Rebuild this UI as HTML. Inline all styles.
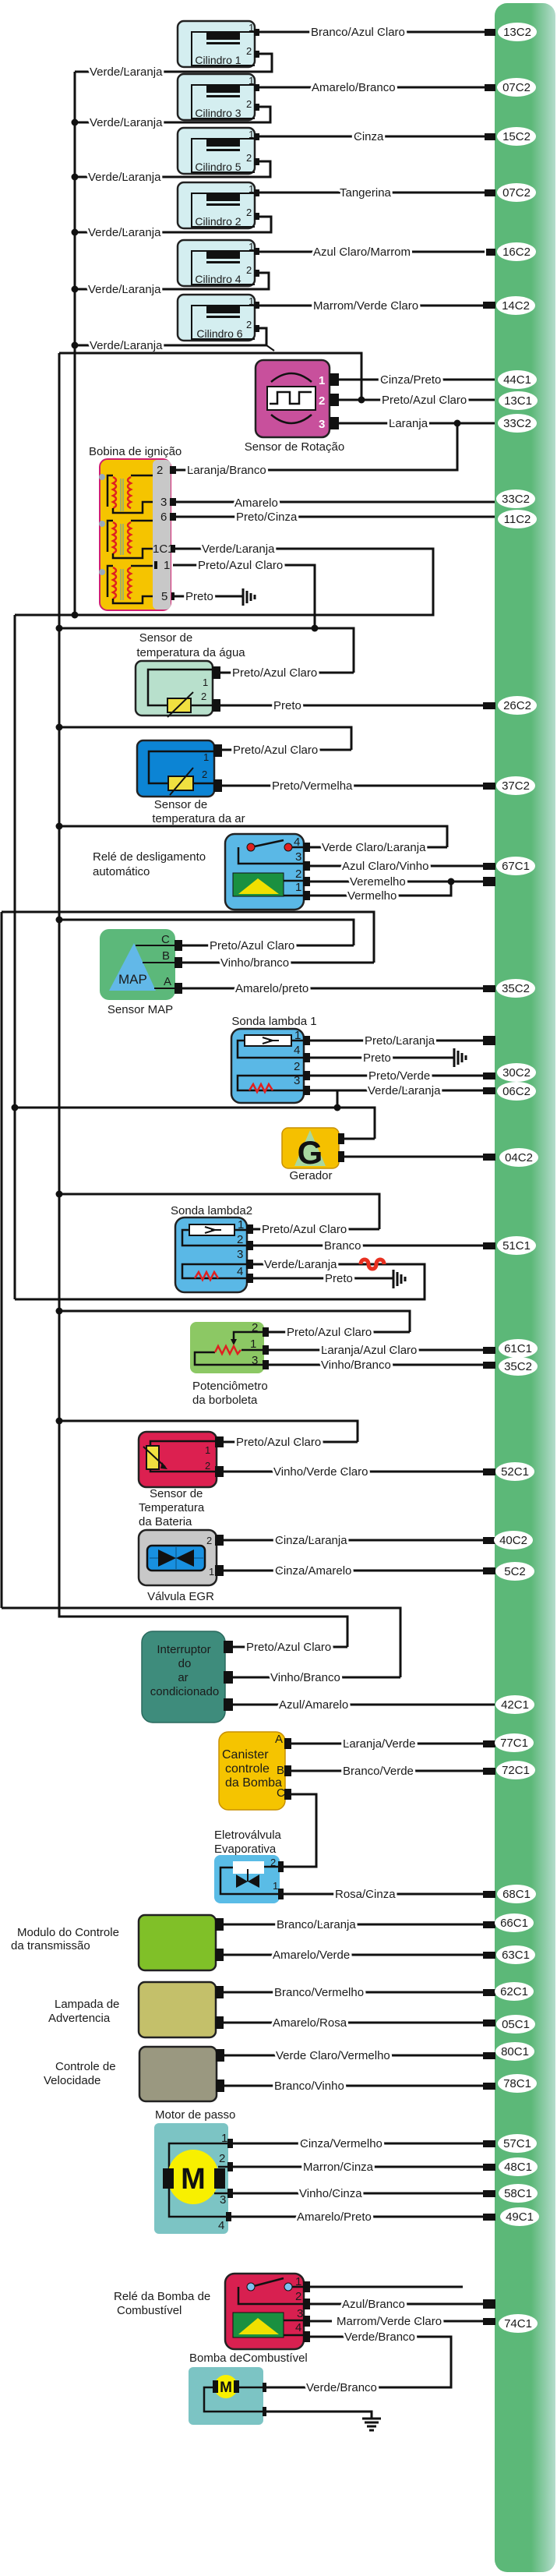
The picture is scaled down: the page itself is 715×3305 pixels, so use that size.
<!DOCTYPE html>
<html><head><meta charset="utf-8"><style>
html,body{margin:0;padding:0;background:#fff}
svg{display:block}
text{font-family:"Liberation Sans",sans-serif;font-size:15px;fill:#1a1a1a}
.w{paint-order:stroke;stroke:#fff;stroke-width:6px;stroke-linejoin:round}
.c{font-size:14px;text-anchor:middle}
.n{font-size:13px}
.l{fill:none;stroke:#111;stroke-width:3}
.b{stroke:#222;stroke-width:2.5}
</style></head><body>
<svg width="715" height="3305" viewBox="0 0 715 3305" xmlns="http://www.w3.org/2000/svg">
<defs>
<linearGradient id="gb" x1="0" x2="1" y1="0" y2="0">
<stop offset="0" stop-color="#5cb878"/><stop offset="0.6" stop-color="#5cb878"/><stop offset="1" stop-color="#b4dccc"/>
</linearGradient>
</defs>
<rect x="635" y="4" width="78" height="3296" rx="16" fill="url(#gb)"/>

<!-- ===== Cylinders ===== -->
<g id="cyls">
<path class="l" d="M96 92 V789"/>
<!-- cyl template rows -->
<g>
<rect x="228" y="27" width="99" height="59" rx="8" fill="#d4eef0" class="b"/>
<path d="M327 41 H246 V84 H327" fill="none" stroke="#111" stroke-width="2"/><rect x="265" y="41" width="43" height="10" fill="#111"/><rect x="265" y="54" width="43" height="3" fill="#111"/>
<text x="319" y="40" class="n">1</text><text x="316" y="70" class="n">2</text><text x="280" y="82" class="c">Cilindro 1</text>
<rect x="326" y="37" width="7" height="9" fill="#111"/><rect x="326" y="65" width="7" height="9" fill="#111"/>
<path class="l" d="M333 41 H622"/><path class="l" d="M333 69 H349 V92 H96"/>
</g>
<g>
<rect x="228" y="95" width="99" height="59" rx="8" fill="#d4eef0" class="b"/>
<path d="M327 109 H246 V152 H327" fill="none" stroke="#111" stroke-width="2"/><rect x="265" y="109" width="43" height="10" fill="#111"/><rect x="265" y="122" width="43" height="3" fill="#111"/>
<text x="319" y="108" class="n">1</text><text x="316" y="138" class="n">2</text><text x="280" y="150" class="c">Cilindro 3</text>
<rect x="326" y="108" width="7" height="9" fill="#111"/><rect x="326" y="133" width="7" height="9" fill="#111"/>
<path class="l" d="M333 112 H622"/><path class="l" d="M333 137 H347 V157 H96"/>
</g>
<g>
<rect x="228" y="164" width="99" height="59" rx="8" fill="#d4eef0" class="b"/>
<path d="M327 178 H246 V221 H327" fill="none" stroke="#111" stroke-width="2"/><rect x="265" y="178" width="43" height="10" fill="#111"/><rect x="265" y="191" width="43" height="3" fill="#111"/>
<text x="319" y="177" class="n">1</text><text x="316" y="207" class="n">2</text><text x="280" y="219" class="c">Cilindro 5</text>
<rect x="326" y="171" width="7" height="9" fill="#111"/><rect x="326" y="203" width="7" height="9" fill="#111"/>
<path class="l" d="M333 175 H622"/><path class="l" d="M333 207 H347 V227 H96"/>
</g>
<g>
<rect x="228" y="234" width="99" height="59" rx="8" fill="#d4eef0" class="b"/>
<path d="M327 248 H246 V291 H327" fill="none" stroke="#111" stroke-width="2"/><rect x="265" y="248" width="43" height="10" fill="#111"/><rect x="265" y="261" width="43" height="3" fill="#111"/>
<text x="319" y="247" class="n">1</text><text x="316" y="277" class="n">2</text><text x="280" y="289" class="c">Cilindro 2</text>
<rect x="326" y="243" width="7" height="9" fill="#111"/><rect x="326" y="273" width="7" height="9" fill="#111"/>
<path class="l" d="M333 247 H622"/><path class="l" d="M333 278 H348 V298 H96"/>
</g>
<g>
<rect x="228" y="308" width="99" height="59" rx="8" fill="#d4eef0" class="b"/>
<path d="M327 322 H246 V365 H327" fill="none" stroke="#111" stroke-width="2"/><rect x="265" y="322" width="43" height="10" fill="#111"/><rect x="265" y="335" width="43" height="3" fill="#111"/>
<text x="319" y="321" class="n">1</text><text x="316" y="351" class="n">2</text><text x="280" y="363" class="c">Cilindro 4</text>
<rect x="326" y="318" width="7" height="9" fill="#111"/><rect x="326" y="346" width="7" height="9" fill="#111"/>
<path class="l" d="M333 323 H622"/><path class="l" d="M333 350 H345 V371 H96"/>
</g>
<g>
<rect x="228" y="378" width="99" height="59" rx="8" fill="#d4eef0" class="b"/>
<path d="M327 392 H246 V435 H327" fill="none" stroke="#111" stroke-width="2"/><rect x="265" y="392" width="43" height="10" fill="#111"/><rect x="265" y="405" width="43" height="3" fill="#111"/>
<text x="319" y="391" class="n">1</text><text x="316" y="421" class="n">2</text><text x="282" y="433" class="c">Cilindro 6</text>
<rect x="326" y="387" width="7" height="9" fill="#111"/><rect x="326" y="417" width="7" height="9" fill="#111"/>
<path class="l" d="M333 392 H622"/><path class="l" d="M333 421 H342 V443 H96"/><path d="M342 443 L352 450" stroke="#111" stroke-width="2"/>
</g>
<g fill="#111"><circle cx="96" cy="157" r="4.5"/><circle cx="96" cy="227" r="4.5"/><circle cx="96" cy="298" r="4.5"/><circle cx="96" cy="371" r="4.5"/><circle cx="96" cy="443" r="4.5"/><circle cx="96" cy="789" r="4.5"/></g>
<g class="w">
<text x="115" y="97">Verde/Laranja</text><text x="115" y="162">Verde/Laranja</text><text x="113" y="232">Verde/Laranja</text><text x="113" y="303">Verde/Laranja</text><text x="113" y="376">Verde/Laranja</text><text x="115" y="448">Verde/Laranja</text>
<text x="399" y="46">Branco/Azul Claro</text><text x="400" y="117">Amarelo/Branco</text><text x="454" y="180">Cinza</text><text x="436" y="252">Tangerina</text><text x="402" y="328">Azul Claro/Marrom</text><text x="402" y="397">Marrom/Verde Claro</text>
</g>
</g>

<!-- ===== Left buses ===== -->
<path class="l" d="M76 453 V2074 H446 V2113"/>
<path class="l" d="M76 453 H464 V513"/>
<path class="l" d="M19 789 V1667"/>
<path class="l" d="M2 1170 V2063"/>

<!-- ===== Sensor de Rotação ===== -->
<rect x="328" y="462" width="95" height="99" rx="10" fill="#c8509c" class="b"/>
<rect x="343" y="496" width="62" height="30" fill="#fff" stroke="#111" stroke-width="2"/>
<path d="M346 518 H356 V503 H372 V518 H384 V503 H400" fill="none" stroke="#111" stroke-width="2.5"/>
<path d="M348 490 Q374 468 400 490" fill="none" stroke="#111" stroke-width="2.5"/>
<path d="M348 532 Q374 554 400 532" fill="none" stroke="#111" stroke-width="2.5"/>
<g fill="#fff" font-weight="bold"><text x="409" y="493" style="fill:#fff">1</text><text x="409" y="519" style="fill:#fff">2</text><text x="409" y="549" style="fill:#fff">3</text></g>
<g fill="#111"><rect x="423" y="479" width="12" height="16"/><rect x="423" y="505" width="12" height="16"/><rect x="423" y="535" width="12" height="16"/></g>
<path class="l" d="M435 487 H635 M435 513 H635 M435 543 H635"/>
<path class="l" d="M587 543 V603 H226"/>
<circle cx="464" cy="513" r="4.5" fill="#111"/><circle cx="587" cy="543" r="4.5" fill="#111"/>
<text x="378" y="578" class="c" style="font-size:15px">Sensor de Rotação</text>
<g class="w"><text x="488" y="492">Cinza/Preto</text><text x="490" y="518">Preto/Azul Claro</text><text x="499" y="548">Laranja</text></g>

<!-- ===== Bobina ===== -->
<text x="114" y="584">Bobina de ignição</text>
<rect x="128" y="589" width="91" height="194" rx="10" fill="#f5c400" stroke="#d02070" stroke-width="2"/>
<rect x="196" y="590" width="23" height="192" rx="6" fill="#c8c8c8"/>
<g fill="none" stroke="#e02020" stroke-width="2.5">
<path d="M145 612 q8 4 0 8 q8 4 0 8 q8 4 0 8 q8 4 0 8 q8 4 0 8 M168 612 q-8 4 0 8 q-8 4 0 8 q-8 4 0 8 q-8 4 0 8 q-8 4 0 8"/>
<path d="M145 670 q8 4 0 8 q8 4 0 8 q8 4 0 8 q8 4 0 8 q8 4 0 8 M168 670 q-8 4 0 8 q-8 4 0 8 q-8 4 0 8 q-8 4 0 8 q-8 4 0 8"/>
<path d="M145 728 q8 4 0 8 q8 4 0 8 q8 4 0 8 q8 4 0 8 q8 4 0 8 M168 728 q-8 4 0 8 q-8 4 0 8 q-8 4 0 8 q-8 4 0 8 q-8 4 0 8"/>
</g>
<g fill="none" stroke="#111" stroke-width="2.5">
<path d="M168 610 H196 M145 652 V658 H183 V644 H196 M145 610 H138 V650"/>
<path d="M168 668 H196 M145 710 V716 H183 V704 H196 M145 668 H138 V708"/>
<path d="M168 726 H196 M145 768 V774 H183 V765 H196 M145 726 H138 V766"/>
</g>
<g stroke="#8a8" stroke-width="1.5"><path d="M155 614 V656 M158 614 V656 M155 672 V712 M158 672 V712 M155 730 V770 M158 730 V770"/></g>
<g fill="#9ab"><circle cx="131" cy="612" r="4"/><circle cx="131" cy="672" r="4"/><circle cx="131" cy="734" r="4"/></g>
<g class="n"><text x="201" y="608">2</text><text x="206" y="649">3</text><text x="206" y="668">6</text><text x="196" y="709">1C1</text><text x="210" y="730">1</text><text x="207" y="770">5</text></g>
<g fill="#111"><rect x="218" y="598" width="8" height="10"/><rect x="218" y="639" width="8" height="10"/><rect x="218" y="658" width="8" height="10"/><rect x="219" y="699" width="6" height="10"/><rect x="198" y="720" width="4" height="10"/><rect x="220" y="760" width="4" height="10"/></g>
<path class="l" d="M226 644 H635 M226 663 H635"/>
<path class="l" d="M222 704 H556 V789 H19"/>
<path class="l" d="M222 725 H404 V806"/>
<path class="l" d="M224 765 H312"/>
<path d="M312 755 V777 M317 758 V774 M322 761 V771 M327 763 V769" stroke="#111" stroke-width="3"/>
<path class="l" d="M76 806 H454 V863"/>
<g fill="#111"><circle cx="76" cy="806" r="4.5"/><circle cx="404" cy="806" r="4.5"/></g>
<g class="w"><text x="240" y="608">Laranja/Branco</text><text x="301" y="650">Amarelo</text><text x="303" y="668">Preto/Cinza</text><text x="259" y="709">Verde/Laranja</text><text x="254" y="730">Preto/Azul Claro</text><text x="238" y="770">Preto</text></g>

<!-- ===== Sensor temperatura água ===== -->
<text x="213" y="823" class="c" style="font-size:15px">Sensor de</text>
<text x="245" y="842" class="c" style="font-size:15px">temperatura  da água</text>
<rect x="174" y="848" width="99" height="70" rx="8" fill="#b8e0cc" class="b"/>
<path d="M273 859 H190 V905 H273" fill="none" stroke="#111" stroke-width="2.5"/>
<rect x="215" y="896" width="30" height="18" fill="#f0e040" stroke="#111" stroke-width="2"/><path d="M215 920 L248 888" stroke="#111" stroke-width="2"/>
<text x="260" y="880" class="n">1</text><text x="258" y="898" class="n">2</text>
<g fill="#111"><rect x="272" y="855" width="11" height="16"/><rect x="272" y="897" width="11" height="16"/></g>
<path class="l" d="M283 863 H454 M283 905 H635"/>
<g class="w"><text x="298" y="868">Preto/Azul Claro</text><text x="351" y="910">Preto</text></g>

<!-- ===== Sensor temperatura ar ===== -->
<path class="l" d="M76 933 H451 V962"/><circle cx="76" cy="933" r="4.5" fill="#111"/>
<rect x="176" y="950" width="99" height="72" rx="8" fill="#0c84d4" class="b"/>
<path d="M275 964 H191 V1005 H275" fill="none" stroke="#111" stroke-width="2.5"/>
<rect x="216" y="996" width="32" height="18" fill="#f0e040" stroke="#111" stroke-width="2"/><path d="M218 1020 L248 985" stroke="#111" stroke-width="2"/>
<text x="261" y="976" class="n">1</text><text x="259" y="998" class="n">2</text>
<g fill="#111"><rect x="274" y="955" width="11" height="16"/><rect x="274" y="1000" width="11" height="16"/></g>
<path class="l" d="M285 962 H451 M285 1008 H635"/>
<text x="232" y="1037" class="c" style="font-size:15px">Sensor de</text>
<text x="255" y="1055" class="c" style="font-size:15px">temperatura  da ar</text>
<g class="w"><text x="299" y="967">Preto/Azul Claro</text><text x="349" y="1013">Preto/Vermelha</text></g>

<!-- ===== Relé desligamento ===== -->
<path class="l" d="M76 1060 H574 V1087"/><circle cx="76" cy="1060" r="4.5" fill="#111"/>
<rect x="289" y="1070" width="101" height="97" rx="12" fill="#5ab8e6" class="b"/>
<path d="M322 1087 L364 1078 M306 1087 V1108 H390 M370 1087 H390" fill="none" stroke="#111" stroke-width="2.5"/>
<circle cx="322" cy="1087" r="5" fill="#e02020" stroke="#111"/><circle cx="370" cy="1087" r="5" fill="#e02020" stroke="#111"/>
<rect x="299" y="1120" width="65" height="30" fill="#1a9040" stroke="#111"/>
<polygon points="306,1147 331,1127 358,1147" fill="#f0e000"/>
<path d="M364 1130 H390 M364 1149 H390" stroke="#111" stroke-width="2.5"/>
<g class="n"><text x="377" y="1085">4</text><text x="379" y="1104">3</text><text x="379" y="1126">2</text><text x="379" y="1143">1</text></g>
<g fill="#111"><rect x="389" y="1081" width="9" height="12"/><rect x="389" y="1105" width="9" height="12"/><rect x="389" y="1125" width="9" height="12"/><rect x="389" y="1143" width="9" height="12"/></g>
<path class="l" d="M398 1087 H574 M398 1111 H635 M398 1131 H635 M398 1149 H579 V1131"/>
<rect x="620" y="1125" width="16" height="12" fill="#111"/><circle cx="579" cy="1131" r="4.5" fill="#111"/>
<text x="119" y="1104">Relé de desligamento</text><text x="119" y="1123">automático</text>
<g class="w"><text x="413" y="1092">Verde Claro/Laranja</text><text x="439" y="1116">Azul Claro/Vinho</text><text x="449" y="1136">Veremelho</text><text x="446" y="1154">Vermelho</text></g>

<!-- ===== MAP ===== -->
<path class="l" d="M2 1170 H480 V1235"/>
<path class="l" d="M76 1180 H454 V1213"/><circle cx="76" cy="1180" r="4.5" fill="#111"/>
<rect x="128" y="1192" width="97" height="91" rx="12" fill="#5cb87a"/>
<polygon points="172,1210 140,1271 200,1271" fill="#62b8e8"/>
<path d="M174 1213 H225 M183 1235 H225 M198 1268 H225" stroke="#111" stroke-width="2"/>
<text x="152" y="1262" style="font-size:17px">MAP</text>
<g class="n" style="font-size:14px"><text x="207" y="1210">C</text><text x="208" y="1231">B</text><text x="210" y="1264">A</text></g>
<g fill="#111"><rect x="224" y="1206" width="10" height="14"/><rect x="224" y="1228" width="10" height="14"/><rect x="224" y="1261" width="10" height="14"/></g>
<path class="l" d="M234 1213 H454 M234 1235 H480 M234 1268 H635"/>
<text x="180" y="1300" class="c" style="font-size:15px">Sensor MAP</text>
<g class="w"><text x="269" y="1218">Preto/Azul Claro</text><text x="283" y="1240">Vinho/branco</text><text x="302" y="1273">Amarelo/preto</text></g>

<!-- ===== Sonda lambda 1 ===== -->
<text x="352" y="1315" class="c" style="font-size:15px">Sonda lambda 1</text>
<rect x="297" y="1320" width="93" height="95" rx="12" fill="#5ab8e6" class="b"/>
<rect x="314" y="1328" width="60" height="14" fill="#fff" stroke="#111" stroke-width="2"/>
<path d="M337 1331 L350 1335 L337 1339 M345 1335 H358" fill="none" stroke="#111" stroke-width="2"/>
<path d="M314 1335 H305 V1357 H390 M374 1335 H390 M390 1380 H305 V1399 H390" fill="none" stroke="#111" stroke-width="2.5"/>
<path d="M320 1399 l5 -8 l5 10 l5 -10 l5 10 l5 -10 l5 8" fill="none" stroke="#e02020" stroke-width="2.5"/>
<g class="n"><text x="378" y="1333">1</text><text x="377" y="1352">4</text><text x="377" y="1373">2</text><text x="377" y="1391">3</text></g>
<g fill="#111"><rect x="389" y="1329" width="9" height="12"/><rect x="389" y="1351" width="9" height="12"/><rect x="389" y="1374" width="9" height="12"/><rect x="389" y="1393" width="9" height="12"/></g>
<path class="l" d="M398 1335 H635 M398 1357 H583 M398 1380 H635 M398 1399 H635 M433 1399 V1421"/>
<rect x="620" y="1329" width="16" height="12" fill="#111"/>
<path d="M583 1345 V1369 M588 1348 V1366 M593 1351 V1363 M598 1354 V1360" stroke="#111" stroke-width="3"/>
<g class="w"><text x="468" y="1340">Preto/Laranja</text><text x="466" y="1362">Preto</text><text x="473" y="1385">Preto/Verde</text><text x="472" y="1404">Verde/Laranja</text></g>

<!-- ===== Gerador ===== -->
<path class="l" d="M19 1421 H481 V1461"/><circle cx="19" cy="1421" r="4.5" fill="#111"/><circle cx="433" cy="1421" r="4.5" fill="#111"/>
<rect x="362" y="1447" width="73" height="52" rx="8" fill="#f5c000" stroke="#c89000" stroke-width="1.5"/>
<polygon points="398,1450 378,1496 418,1496" fill="#a8d8a0"/>
<text x="398" y="1493" class="c" style="font-size:42px;font-weight:bold;fill:#111">G</text>
<g fill="#111"><rect x="434" y="1454" width="8" height="14"/><rect x="434" y="1477" width="8" height="14"/></g>
<path class="l" d="M442 1461 H481 M442 1484 H635"/>
<text x="399" y="1513" class="c" style="font-size:15px">Gerador</text>

<!-- ===== Sonda lambda 2 ===== -->
<path class="l" d="M76 1532 H487 V1577"/><circle cx="76" cy="1532" r="4.5" fill="#111"/>
<text x="219" y="1558">Sonda lambda2</text>
<rect x="225" y="1562" width="92" height="96" rx="12" fill="#5ab8e6" class="b"/>
<rect x="243" y="1571" width="58" height="14" fill="#fff" stroke="#111" stroke-width="2"/>
<path d="M263 1574 L276 1578 L263 1582 M271 1578 H284" fill="none" stroke="#111" stroke-width="2"/>
<path d="M243 1578 H234 V1598 H317 M301 1578 H317 M317 1622 H234 V1640 H317" fill="none" stroke="#111" stroke-width="2.5"/>
<path d="M250 1640 l5 -8 l5 10 l5 -10 l5 10 l5 -10 l5 8" fill="none" stroke="#e02020" stroke-width="2.5"/>
<g class="n"><text x="305" y="1576">1</text><text x="304" y="1595">2</text><text x="304" y="1614">3</text><text x="304" y="1636">4</text></g>
<g fill="#111"><rect x="316" y="1571" width="9" height="12"/><rect x="316" y="1592" width="9" height="12"/><rect x="316" y="1616" width="9" height="12"/><rect x="316" y="1634" width="9" height="12"/></g>
<path class="l" d="M325 1577 H487 M325 1598 H635 M325 1622 H545 V1667 H19 M325 1640 H505"/>
<path d="M463 1622 c0 -8 10 -8 10 0 c0 8 10 8 10 0 c0 -8 10 -8 10 0" fill="none" stroke="#e83020" stroke-width="5"/>
<path d="M505 1629 V1653 M510 1632 V1650 M515 1635 V1647 M520 1638 V1644" stroke="#111" stroke-width="3"/>
<g class="w"><text x="336" y="1582">Preto/Azul Claro</text><text x="416" y="1603">Branco</text><text x="339" y="1627">Verde/Laranja</text><text x="417" y="1645">Preto</text></g>

<!-- ===== Potenciômetro ===== -->
<path class="l" d="M76 1682 H526 V1709"/><circle cx="76" cy="1682" r="4.5" fill="#111"/>
<rect x="244" y="1696" width="95" height="66" rx="8" fill="#8cc864"/>
<path d="M339 1709 H300 V1720 M339 1732 H310 M339 1751 H250 V1735 H276" fill="none" stroke="#111" stroke-width="2.5"/>
<polygon points="296,1718 304,1718 300,1726" fill="#111"/>
<path d="M276 1735 l4 -8 l5 10 l5 -10 l5 10 l5 -10 l5 10 l4 -5" fill="none" stroke="#e02020" stroke-width="2.5"/>
<g class="n"><text x="323" y="1708">2</text><text x="321" y="1729">1</text><text x="323" y="1750">3</text></g>
<g fill="#111"><rect x="337" y="1703" width="8" height="12"/><rect x="337" y="1726" width="8" height="12"/><rect x="337" y="1745" width="8" height="12"/></g>
<path class="l" d="M345 1709 H526 M345 1732 H635 M345 1751 H635"/>
<text x="247" y="1783">Potenciômetro</text><text x="247" y="1801">da borboleta</text>
<g class="w"><text x="368" y="1714">Preto/Azul Claro</text><text x="412" y="1737">Laranja/Azul Claro</text><text x="412" y="1756">Vinho/Branco</text></g>

<!-- ===== Sensor temperatura bateria ===== -->
<path class="l" d="M76 1823 H459 V1850"/><circle cx="76" cy="1823" r="4.5" fill="#111"/>
<rect x="178" y="1837" width="100" height="71" rx="10" fill="#dc2050" class="b"/>
<path d="M278 1849 H193 V1888 H278" fill="none" stroke="#111" stroke-width="2.5"/>
<rect x="188" y="1855" width="16" height="30" fill="#f0e040" stroke="#111" stroke-width="2"/>
<path d="M184 1856 L212 1882" stroke="#111" stroke-width="2"/><polygon points="208,1876 215,1885 206,1884" fill="#111"/>
<text x="263" y="1865" class="n">1</text><text x="263" y="1885" class="n">2</text>
<g fill="#111"><rect x="276" y="1843" width="11" height="14"/><rect x="276" y="1881" width="11" height="14"/></g>
<path class="l" d="M287 1850 H459 M287 1888 H635"/>
<text x="192" y="1921">Sensor de</text><text x="178" y="1939">Temperatura</text><text x="178" y="1957">da Bateria</text>
<g class="w"><text x="303" y="1855">Preto/Azul Claro</text><text x="351" y="1893">Vinho/Verde Claro</text></g>

<!-- ===== EGR ===== -->
<rect x="178" y="1963" width="100" height="71" rx="10" fill="#c8c8c8" class="b"/>
<rect x="189" y="1983" width="74" height="32" rx="6" fill="#1890e0" stroke="#111" stroke-width="2.5"/>
<path d="M226 1985 V2013 M192 1999 H261" stroke="#0a5080" stroke-width="1"/>
<polygon points="203,1988 226,1999 203,2010" fill="#111"/><polygon points="249,1988 226,1999 249,2010" fill="#111"/>
<text x="265" y="1981" class="n">2</text><text x="268" y="2021" class="n">1</text>
<g fill="#111"><rect x="276" y="1969" width="11" height="14"/><rect x="276" y="2008" width="11" height="14"/></g>
<path class="l" d="M287 1976 H635 M287 2015 H635"/>
<text x="232" y="2053" class="c" style="font-size:15px">Válvula EGR</text>
<g class="w"><text x="353" y="1981">Cinza/Laranja</text><text x="353" y="2020">Cinza/Amarelo</text></g>

<!-- ===== Ar condicionado ===== -->
<path class="l" d="M2 2063 H514 V2152"/>
<rect x="182" y="2093" width="107" height="117" rx="14" fill="#3e8c7c" stroke="#2a6a5e" stroke-width="1.5"/>
<g style="font-size:15px;text-anchor:middle"><text x="236" y="2121">Interruptor</text><text x="237" y="2139">do</text><text x="235" y="2157">ar</text><text x="237" y="2175">condicionado</text></g>
<g fill="#111"><rect x="287" y="2105" width="12" height="16"/><rect x="287" y="2144" width="12" height="16"/><rect x="287" y="2179" width="12" height="16"/></g>
<path class="l" d="M299 2113 H446 M299 2152 H514 M299 2187 H635"/>
<g class="w"><text x="316" y="2118">Preto/Azul Claro</text><text x="347" y="2157">Vinho/Branco</text><text x="358" y="2192">Azul/Amarelo</text></g>

<!-- ===== Canister ===== -->
<rect x="281" y="2222" width="85" height="100" rx="12" fill="#f5c400" stroke="#c89000" stroke-width="1.5"/>
<text x="285" y="2256" style="font-size:16px">Canister</text><text x="289" y="2274" style="font-size:16px">controle</text><text x="289" y="2292" style="font-size:16px">da Bomba</text>
<g class="n"><text x="353" y="2236">A</text><text x="355" y="2276">B</text><text x="355" y="2305">C</text></g>
<g fill="#111"><rect x="365" y="2230" width="9" height="14"/><rect x="365" y="2265" width="9" height="14"/><rect x="365" y="2295" width="9" height="14"/></g>
<path class="l" d="M374 2237 H635 M374 2272 H635 M374 2302 H406 V2395 H359"/>
<g class="w"><text x="440" y="2242">Laranja/Verde</text><text x="440" y="2277">Branco/Verde</text></g>

<!-- ===== Eletroválvula ===== -->
<text x="275" y="2359">Eletroválvula</text><text x="275" y="2377">Evaporativa</text>
<rect x="275" y="2380" width="84" height="62" rx="8" fill="#5abce6"/>
<rect x="299" y="2388" width="40" height="16" fill="#fff"/>
<path d="M359 2395 H339 M359 2430 H283 V2396 H299" fill="none" stroke="#111" stroke-width="2.5"/>
<polygon points="303,2405 318,2414 303,2422" fill="#111"/><polygon points="333,2405 318,2414 333,2422" fill="#111"/><path d="M318 2398 V2414" stroke="#111" stroke-width="2"/>
<text x="347" y="2394" class="n">2</text><text x="350" y="2424" class="n">1</text>
<g fill="#111"><rect x="357" y="2388" width="7" height="14"/><rect x="357" y="2423" width="7" height="14"/></g>
<path class="l" d="M364 2430 H635"/>
<g class="w"><text x="430" y="2435">Rosa/Cinza</text></g>

<!-- ===== Modulo / Lampada / Controle ===== -->
<rect x="178" y="2457" width="99" height="71" rx="8" fill="#80c028" class="b"/>
<rect x="178" y="2543" width="99" height="71" rx="8" fill="#c4c06a" class="b"/>
<rect x="179" y="2626" width="99" height="70" rx="8" fill="#9a9880" class="b"/>
<g fill="#111"><rect x="276" y="2461" width="11" height="16"/><rect x="276" y="2500" width="11" height="16"/><rect x="276" y="2548" width="11" height="16"/><rect x="276" y="2587" width="11" height="16"/><rect x="277" y="2629" width="11" height="16"/><rect x="277" y="2668" width="11" height="16"/></g>
<path class="l" d="M287 2469 H635 M287 2508 H635 M287 2556 H635 M287 2595 H635 M288 2637 H635 M288 2676 H635"/>
<text x="22" y="2484">Modulo do Controle</text><text x="14" y="2501">da transmissão</text>
<text x="70" y="2576">Lampada de</text><text x="62" y="2594">Advertencia</text>
<text x="71" y="2656">Controle de</text><text x="56" y="2674">Velocidade</text>
<g class="w"><text x="355" y="2474">Branco/Laranja</text><text x="350" y="2513">Amarelo/Verde</text><text x="352" y="2561">Branco/Vermelho</text><text x="350" y="2600">Amarelo/Rosa</text><text x="354" y="2642">Verde Claro/Vermelho</text><text x="352" y="2681">Branco/Vinho</text></g>

<!-- ===== Motor de passo ===== -->
<text x="199" y="2718">Motor de passo</text>
<rect x="198" y="2724" width="95" height="142" rx="6" fill="#7cc4c4"/>
<path d="M293 2750 H217 V2844 H293" fill="none" stroke="#111" stroke-width="2.5"/>
<ellipse cx="248" cy="2793" rx="33" ry="35" fill="#f8f000"/>
<rect x="209" y="2782" width="14" height="26" fill="#111"/><rect x="275" y="2782" width="14" height="26" fill="#111"/>
<text x="248" y="2808" class="c" style="font-size:38px;font-weight:bold;fill:#111">M</text>
<path d="M280 2780 H293 M275 2814 H293" stroke="#111" stroke-width="2.5"/>
<g class="n"><text x="284" y="2748">1</text><text x="281" y="2774">2</text><text x="282" y="2827">3</text><text x="280" y="2860">4</text></g>
<g fill="#111"><rect x="292" y="2744" width="7" height="12"/><rect x="292" y="2774" width="7" height="12"/><rect x="292" y="2808" width="7" height="12"/><rect x="290" y="2838" width="7" height="12"/></g>
<path class="l" d="M299 2750 H635 M299 2780 H635 M299 2814 H635 M297 2844 H635"/>
<g class="w"><text x="385" y="2755">Cinza/Vermelho</text><text x="389" y="2785">Marron/Cinza</text><text x="384" y="2819">Vinho/Cinza</text><text x="381" y="2849">Amarelo/Preto</text></g>

<!-- ===== Relé bomba ===== -->
<rect x="289" y="2917" width="101" height="97" rx="12" fill="#d82050" class="b"/>
<path d="M322 2934 L364 2923 M306 2934 V2956 H390 M370 2934 H390" fill="none" stroke="#111" stroke-width="2.5"/>
<circle cx="322" cy="2934" r="5" fill="#7ec0f0" stroke="#111"/><circle cx="370" cy="2934" r="5" fill="#7ec0f0" stroke="#111"/>
<rect x="299" y="2967" width="65" height="32" fill="#1a9040" stroke="#111"/>
<polygon points="306,2995 331,2974 358,2995" fill="#f0e000"/>
<path d="M364 2977 H390 M364 2996 H390" stroke="#111" stroke-width="2.5"/>
<g class="n"><text x="379" y="2932">1</text><text x="379" y="2951">2</text><text x="381" y="2973">3</text><text x="379" y="2991">4</text></g>
<g fill="#111"><rect x="389" y="2927" width="9" height="14"/><rect x="389" y="2949" width="9" height="14"/><rect x="389" y="2971" width="9" height="14"/><rect x="389" y="2991" width="9" height="14"/></g>
<path class="l" d="M398 2934 H594 M398 2956 H635 M398 2978 H426 M433 2978 H635 M398 2998 H579 V3063 H338"/>
<rect x="620" y="2950" width="16" height="12" fill="#111"/>
<text x="146" y="2951">Relé da Bomba de</text><text x="150" y="2969">Combustível</text>
<g class="w"><text x="439" y="2961">Azul/Branco</text><text x="432" y="2983">Marrom/Verde Claro</text><text x="442" y="3003">Verde/Branco</text></g>

<!-- ===== Bomba ===== -->
<text x="243" y="3030">Bomba deCombustível</text>
<rect x="242" y="3037" width="96" height="74" rx="6" fill="#7cc4c4"/>
<circle cx="290" cy="3062" r="15" fill="#f8f000"/>
<rect x="273" y="3054" width="7" height="16" fill="#111"/><rect x="300" y="3054" width="7" height="16" fill="#111"/>
<text x="290" y="3069" class="c" style="font-size:19px;font-weight:bold;fill:#111">M</text>
<path d="M273 3063 H262 V3094 H340 M307 3063 H338" fill="none" stroke="#111" stroke-width="2.5"/>
<g fill="#111"><rect x="337" y="3057" width="5" height="12"/><rect x="337" y="3088" width="5" height="12"/></g>
<path class="l" d="M342 3094 H477 V3103"/>
<path d="M465 3103 H489 M468 3108 H486 M471 3113 H483 M474 3118 H480" stroke="#111" stroke-width="3"/>
<g class="w"><text x="393" y="3068">Verde/Branco</text></g>

<!-- ===== ECU stubs & ellipse labels ===== -->
<g fill="#111">
<rect x="622" y="37" width="14" height="9"/><rect x="622" y="108" width="14" height="9"/><rect x="622" y="171" width="14" height="9"/><rect x="622" y="243" width="14" height="9"/><rect x="624" y="319" width="12" height="9"/><rect x="620" y="387" width="16" height="9"/>
<rect x="620" y="901" width="16" height="9"/><rect x="620" y="1004" width="16" height="9"/><rect x="620" y="1107" width="16" height="9"/><rect x="620" y="1264" width="16" height="9"/>
<rect x="620" y="1376" width="16" height="9"/><rect x="620" y="1395" width="16" height="9"/><rect x="620" y="1480" width="16" height="9"/><rect x="620" y="1594" width="16" height="9"/>
<rect x="620" y="1728" width="16" height="9"/><rect x="620" y="1747" width="16" height="9"/><rect x="620" y="1884" width="16" height="9"/><rect x="620" y="1972" width="16" height="9"/><rect x="620" y="2011" width="16" height="9"/>
<rect x="620" y="2233" width="16" height="9"/><rect x="620" y="2268" width="16" height="9"/><rect x="620" y="2426" width="16" height="9"/>
<rect x="620" y="2465" width="16" height="9"/><rect x="620" y="2504" width="16" height="9"/><rect x="620" y="2552" width="16" height="9"/><rect x="620" y="2591" width="16" height="9"/><rect x="620" y="2633" width="16" height="9"/><rect x="620" y="2672" width="16" height="9"/>
<rect x="620" y="2746" width="16" height="9"/><rect x="620" y="2776" width="16" height="9"/><rect x="620" y="2810" width="16" height="9"/><rect x="620" y="2840" width="16" height="9"/><rect x="620" y="2974" width="16" height="9"/>
</g>
<g fill="#fff">
<ellipse cx="664" cy="41" rx="25" ry="12"/><ellipse cx="663" cy="112" rx="25" ry="12"/><ellipse cx="663" cy="175" rx="25" ry="12"/><ellipse cx="663" cy="247" rx="25" ry="12"/><ellipse cx="663" cy="323" rx="25" ry="12"/><ellipse cx="662" cy="392" rx="25" ry="12"/>
<ellipse cx="664" cy="487" rx="25" ry="12"/><ellipse cx="665" cy="514" rx="25" ry="12"/><ellipse cx="664" cy="543" rx="25" ry="12"/><ellipse cx="662" cy="640" rx="25" ry="12"/><ellipse cx="664" cy="666" rx="25" ry="12"/>
<ellipse cx="664" cy="905" rx="25" ry="12"/><ellipse cx="662" cy="1008" rx="25" ry="12"/><ellipse cx="662" cy="1111" rx="25" ry="12"/><ellipse cx="662" cy="1268" rx="25" ry="12"/>
<ellipse cx="663" cy="1376" rx="25" ry="12"/><ellipse cx="663" cy="1400" rx="25" ry="12"/><ellipse cx="666" cy="1485" rx="25" ry="12"/><ellipse cx="663" cy="1598" rx="25" ry="12"/>
<ellipse cx="665" cy="1730" rx="25" ry="12"/><ellipse cx="665" cy="1753" rx="25" ry="12"/><ellipse cx="661" cy="1888" rx="25" ry="12"/><ellipse cx="659" cy="1976" rx="25" ry="12"/><ellipse cx="661" cy="2016" rx="25" ry="12"/>
<ellipse cx="661" cy="2187" rx="25" ry="12"/><ellipse cx="660" cy="2236" rx="25" ry="12"/><ellipse cx="662" cy="2271" rx="25" ry="12"/><ellipse cx="663" cy="2430" rx="25" ry="12"/>
<ellipse cx="660" cy="2467" rx="25" ry="12"/><ellipse cx="662" cy="2508" rx="25" ry="12"/><ellipse cx="660" cy="2555" rx="25" ry="12"/><ellipse cx="662" cy="2597" rx="25" ry="12"/><ellipse cx="661" cy="2632" rx="25" ry="12"/><ellipse cx="664" cy="2673" rx="25" ry="12"/>
<ellipse cx="664" cy="2750" rx="25" ry="12"/><ellipse cx="665" cy="2780" rx="25" ry="12"/><ellipse cx="665" cy="2814" rx="25" ry="12"/><ellipse cx="667" cy="2844" rx="25" ry="12"/><ellipse cx="665" cy="2981" rx="25" ry="12"/>
</g>
<g class="c">
<text x="664" y="46">13C2</text><text x="663" y="117">07C2</text><text x="663" y="180">15C2</text><text x="663" y="252">07C2</text><text x="663" y="328">16C2</text><text x="662" y="397">14C2</text>
<text x="664" y="492">44C1</text><text x="665" y="519">13C1</text><text x="664" y="548">33C2</text><text x="662" y="645">33C2</text><text x="664" y="671">11C2</text>
<text x="664" y="910">26C2</text><text x="662" y="1013">37C2</text><text x="662" y="1116">67C1</text><text x="662" y="1273">35C2</text>
<text x="663" y="1381">30C2</text><text x="663" y="1405">06C2</text><text x="666" y="1490">04C2</text><text x="663" y="1603">51C1</text>
<text x="665" y="1735">61C1</text><text x="665" y="1758">35C2</text><text x="661" y="1893">52C1</text><text x="659" y="1981">40C2</text><text x="661" y="2021">5C2</text>
<text x="661" y="2192">42C1</text><text x="660" y="2241">77C1</text><text x="662" y="2276">72C1</text><text x="663" y="2435">68C1</text>
<text x="660" y="2472">66C1</text><text x="662" y="2513">63C1</text><text x="660" y="2560">62C1</text><text x="662" y="2602">05C1</text><text x="661" y="2637">80C1</text><text x="664" y="2678">78C1</text>
<text x="664" y="2755">57C1</text><text x="665" y="2785">48C1</text><text x="665" y="2819">58C1</text><text x="667" y="2849">49C1</text><text x="665" y="2986">74C1</text>
</g>
</svg>
</body></html>
